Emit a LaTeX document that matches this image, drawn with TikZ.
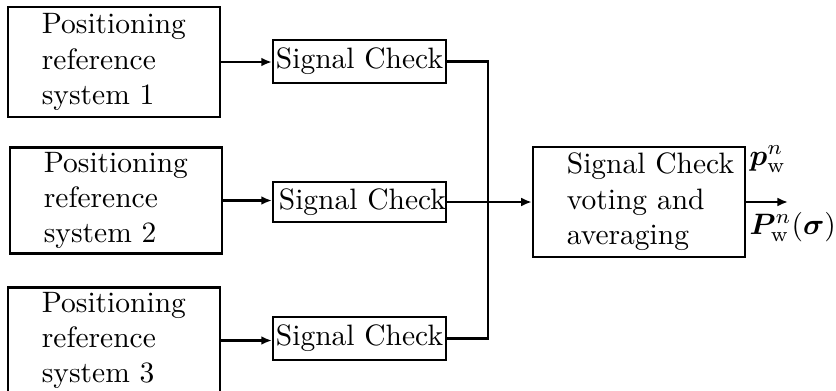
\documentclass[tikz,border=0pt]{standalone}
\usepackage{bm}
\usetikzlibrary{arrows.meta}
% three-line caption set flush left, inset from the left border of its box
\newcommand\boxlines[1]{\hbox to 71.9pt{\hspace{11.5pt}\begin{tabular}{@{}l@{}}#1\end{tabular}\hfil}}
\begin{document}
\begin{tikzpicture}[x=0.339pt,y=-0.339pt,
  refbox/.style={draw, line width=0.8pt, inner xsep=0pt, inner ysep=0pt,
    minimum height=#1},
  refbox/.default=36pt,
  checkbox/.style={draw, line width=0.8pt, inner sep=0.3pt,
    minimum width=58.6pt, minimum height=#1},
  checkbox/.default=14pt,
  link/.style={line width=0.7pt},
  tip/.style={link, -{Latex[length=3.6pt,width=3pt]}},
  outlabel/.style={anchor=base west, inner sep=0pt}]
\useasboundingbox (0,0) rectangle (836,390);

% positioning reference systems
\node[refbox=37.3pt] (ref1) at (114,62) {\boxlines{Positioning\\reference\\system 1}};
\node[refbox=35.6pt] (ref2) at (116,200.5) {\boxlines{Positioning\\reference\\system 2}};
\node[refbox=35.6pt] (ref3) at (114,340.5) {\boxlines{Positioning\\reference\\system 3}};

% signal checks
\node[checkbox=14.6pt] (chk1) at (359.5,61.5) {Signal Check};
\node[checkbox=13.6pt] (chk2) at (359.5,202) {\hspace*{1pt}Signal Check\hspace*{-1pt}};
\node[checkbox=14.6pt] (chk3) at (359.5,338.5) {Signal Check};

% voting and averaging
\node[refbox=37.3pt] (vote) at (639,202) {\boxlines{Signal Check\\voting and\\averaging}};

% inputs to the signal checks
\draw[tip] (ref1.east) -- (ref1.east -| chk1.west);
\draw[tip] (ref2.east) -- (ref2.east -| chk2.west);
\draw[tip] (ref3.east) -- (ref3.east -| chk3.west);

% collecting bus
\coordinate (bus) at (488,202);
\draw[link] (chk1.east) -| (bus) |- (chk3.east);
\draw[tip] (chk2.east) -- (chk2.east -| vote.west);

% output
\coordinate (out) at (788,202);
\draw[tip] (vote.east) -- (out);
\node[outlabel] (pos) at (749,165) {$\bm{p}^n_{\mathrm{w}}$};
\node[outlabel] (cov) at (749,234) {$\bm{P}^n_{\mathrm{w}}(\bm{\sigma})$};
\end{tikzpicture}
\end{document}
